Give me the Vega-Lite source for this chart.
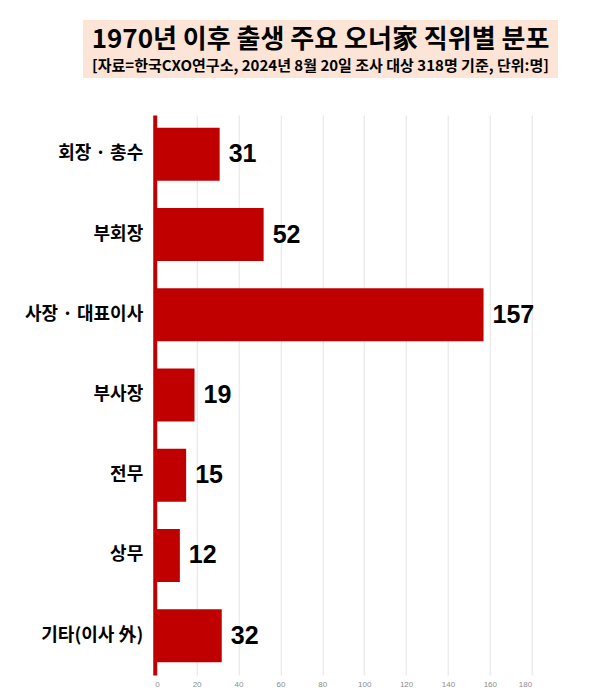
{
  "$schema": "https://vega.github.io/schema/vega-lite/v6.json",
  "padding": {"left": 24, "top": 20, "right": 10, "bottom": 0},
  "config": {
    "view": {"stroke": null},
    "font": "Noto Sans CJK KR"
  },
  "data": {
    "values": [
      {"position": "회장 · 총수", "count": 31},
      {"position": "부회장", "count": 52},
      {"position": "사장 · 대표이사", "count": 157},
      {"position": "부사장", "count": 19},
      {"position": "전무", "count": 15},
      {"position": "상무", "count": 12},
      {"position": "기타(이사 外)", "count": 32}
    ]
  },
  "spacing": 37,
  "center": true,
  "vconcat": [
    {
      "spacing": 0,
      "bounds": "flush",
      "hconcat": [
        {
          "width": 475,
          "height": 58,
          "view": {"fill": "#FCE4D6", "stroke": null},
          "mark": {"type": "text", "opacity": 0},
          "encoding": {},
          "title": {
            "text": "1970년 이후 출생 주요 오너家 직위별 분포",
            "subtitle": "[자료=한국CXO연구소, 2024년 8월 20일 조사 대상 318명 기준, 단위:명]",
            "anchor": "middle",
            "frame": "group",
            "offset": -54,
            "font": "Noto Sans CJK KR",
            "fontSize": 26,
            "fontWeight": "bold",
            "color": "#000000",
            "subtitleFont": "Noto Sans CJK KR",
            "subtitleFontSize": 15,
            "subtitleFontWeight": "bold",
            "subtitleColor": "#000000",
            "subtitlePadding": 6
          }
        },
        {
          "width": 48,
          "height": 58,
          "mark": {"type": "text", "opacity": 0},
          "encoding": {}
        }
      ]
    },
    {
      "width": 377,
      "height": 560,
      "encoding": {
        "y": {
          "field": "position",
          "type": "nominal",
          "sort": null,
          "scale": {"paddingInner": 0.34, "paddingOuter": 0.16},
          "axis": {
            "title": null,
            "ticks": false,
            "domainColor": "#C00000",
            "domainWidth": 4,
            "labelFontSize": 18,
            "labelFontWeight": "bold",
            "labelColor": "#000000",
            "labelPadding": 12
          }
        },
        "x": {
          "field": "count",
          "type": "quantitative",
          "scale": {"domain": [0, 180], "nice": false},
          "axis": {
            "title": null,
            "values": [0, 20, 40, 60, 80, 100, 120, 140, 160, 180],
            "domain": false,
            "ticks": false,
            "grid": true,
            "gridColor": "#E3E3E3",
            "labelFontSize": 8,
            "labelFont": "Liberation Sans",
            "labelColor": "#8C8C8C",
            "labelPadding": 5
          }
        }
      },
      "layer": [
        {
          "mark": {"type": "bar", "color": "#C00000"}
        },
        {
          "mark": {
            "type": "text",
            "align": "left",
            "baseline": "middle",
            "dx": 9,
            "font": "Liberation Sans",
            "fontSize": 25,
            "fontWeight": "bold",
            "color": "#000000"
          },
          "encoding": {"text": {"field": "count", "type": "quantitative"}}
        }
      ]
    }
  ]
}
